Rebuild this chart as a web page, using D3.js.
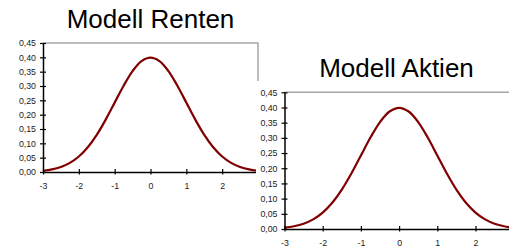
<!DOCTYPE html>
<html><head><meta charset="utf-8">
<script src="https://cdn.jsdelivr.net/npm/d3@7"></script>
<style>html,body{margin:0;padding:0;background:#fff;overflow:hidden}svg{display:block}</style>
</head><body>
<svg id="c" width="509" height="249"></svg>
<script>
// Data (both models show the same bell curve)
const xTicks = [-3, -2, -1, 0, 1, 2, 3];
const yTicks = [0, 0.05, 0.10, 0.15, 0.20, 0.25, 0.30, 0.35, 0.40, 0.45];
const xValues = [-3, -2.75, -2.5, -2.25, -2, -1.75, -1.5, -1.25, -1, -0.75, -0.5, -0.25, 0,
                 0.25, 0.5, 0.75, 1, 1.25, 1.5, 1.75, 2, 2.25, 2.5, 2.75, 3];
const rentenValues = [0.0044, 0.0091, 0.0175, 0.0317, 0.0540, 0.0863, 0.1295, 0.1826, 0.2420, 0.3011, 0.3521, 0.3867, 0.3989,
                      0.3867, 0.3521, 0.3011, 0.2420, 0.1826, 0.1295, 0.0863, 0.0540, 0.0317, 0.0175, 0.0091, 0.0044];
const aktienValues = [0.0044, 0.0091, 0.0175, 0.0317, 0.0540, 0.0863, 0.1295, 0.1826, 0.2420, 0.3011, 0.3521, 0.3867, 0.3989,
                      0.3867, 0.3521, 0.3011, 0.2420, 0.1826, 0.1295, 0.0863, 0.0540, 0.0317, 0.0175, 0.0091, 0.0044];
const titles = ["Modell Renten", "Modell Aktien"];

const svg = d3.select("#c");
const fmt = d => d3.format(".2f")(d).replace(".", ",");

function drawChart(g, cfg, values, title) {
  const x = d3.scaleLinear().domain([-3, 3]).range([cfg.x0, cfg.x1]);
  const y = d3.scaleLinear().domain([0, 0.45]).range([cfg.y0, cfg.y1]);
  if (cfg.bg) {
    g.append("rect").attr("x", cfg.bg[0]).attr("y", cfg.bg[1]).attr("width", cfg.bg[2]).attr("height", cfg.bg[3]).attr("fill", "#fff");
  }
  g.append("text").attr("x", cfg.tx).attr("y", cfg.ty).attr("text-anchor", "middle")
    .attr("font-family", "Liberation Sans, Arial, sans-serif").attr("font-size", 26).attr("fill", "#000").text(title);
  // plot area border (top/right gray)
  g.append("path").attr("d", `M${cfg.x0},${cfg.y1}H${cfg.x1}V${cfg.y0}`)
    .attr("fill", "none").attr("stroke", "#a6a6a6").attr("stroke-width", 1.5);
  // curve
  const line = d3.line().x((d, i) => x(xValues[i])).y(d => y(d)).curve(d3.curveCatmullRom);
  g.append("path").datum(values).attr("d", line).attr("fill", "none").attr("stroke", "#800000").attr("stroke-width", 2.2);
  // y axis
  const ya = g.append("g").attr("transform", `translate(${cfg.x0},0)`)
    .call(d3.axisLeft(y).tickValues(yTicks).tickFormat(fmt).tickSizeInner(3).tickSizeOuter(0).tickPadding(4));
  ya.selectAll(".tick line").attr("x2", 3).attr("x1", -3);
  // x axis
  const xa = g.append("g").attr("transform", `translate(0,${cfg.y0})`)
    .call(d3.axisBottom(x).tickValues(xTicks).tickFormat(d => d === 3 ? "" : String(d)).tickSizeInner(3).tickSizeOuter(0).tickPadding(8));
  xa.selectAll(".tick line").attr("y1", -3).attr("y2", 2.5);
  [ya, xa].forEach(a => {
    a.select(".domain").attr("stroke", "#000").attr("stroke-width", 1.5);
    a.selectAll(".tick line").attr("stroke", "#000").attr("stroke-width", 1.2);
    a.selectAll("text").attr("font-family", "Liberation Sans, Arial, sans-serif").attr("font-size", 8.8).attr("fill", "#222");
  });
}

drawChart(svg.append("g"), {x0: 43, x1: 258, y0: 172, y1: 43, tx: 150.5, ty: 27.5}, rentenValues, titles[0]);
drawChart(svg.append("g"), {x0: 284.5, x1: 513.7, y0: 229, y1: 92.3, tx: 396.5, ty: 76.5, bg: [256, 81, 260, 170]}, aktienValues, titles[1]);
</script>
</body></html>
